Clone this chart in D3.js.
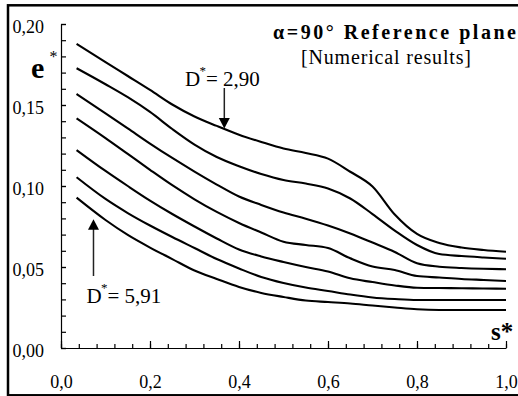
<!DOCTYPE html>
<html>
<head>
<meta charset="utf-8">
<script src="https://cdn.jsdelivr.net/npm/d3@7"></script>
<style>
  html, body { margin: 0; padding: 0; background: #fff; }
  svg { display: block; font-family: "Liberation Serif", "Times New Roman", serif; }
</style>
</head>
<body>
<svg id="chart" width="518" height="396"></svg>
<script>
// Dimensionless position s* along the sampling line
const sValues = [0.035, 0.10, 0.15, 0.20, 0.25, 0.30, 0.35, 0.40, 0.45, 0.50,
                 0.55, 0.60, 0.65, 0.70, 0.75, 0.80, 0.85, 0.90, 0.95, 1.00];

// e* for each diameter, from D* = 2,90 (top) to D* = 5,91 (bottom)
const eD1 = [0.1877, 0.1765, 0.1679, 0.1593, 0.1503, 0.1429, 0.1371, 0.1317, 0.1272, 0.1231,
             0.1204, 0.1169, 0.1088, 0.0997, 0.0824, 0.0704, 0.0648, 0.0620, 0.0605, 0.0594];
const eD2 = [0.1727, 0.1628, 0.1548, 0.1457, 0.1352, 0.1256, 0.1179, 0.1122, 0.1074, 0.1037,
             0.1015, 0.0985, 0.0923, 0.0827, 0.0725, 0.0636, 0.0580, 0.0568, 0.0559, 0.0551];
const eD3 = [0.1568, 0.1449, 0.1356, 0.1262, 0.1173, 0.1089, 0.1009, 0.0935, 0.0883, 0.0836,
             0.0798, 0.0756, 0.0707, 0.0651, 0.0593, 0.0523, 0.0502, 0.0494, 0.0489, 0.0486];
const eD4 = [0.1418, 0.1296, 0.1198, 0.1100, 0.1005, 0.0918, 0.0840, 0.0772, 0.0713, 0.0656,
             0.0636, 0.0617, 0.0554, 0.0503, 0.0481, 0.0444, 0.0435, 0.0426, 0.0420, 0.0414];
const eD5 = [0.1222, 0.1093, 0.1000, 0.0910, 0.0827, 0.0750, 0.0676, 0.0608, 0.0565, 0.0531,
             0.0500, 0.0472, 0.0430, 0.0407, 0.0386, 0.0372, 0.0370, 0.0369, 0.0367, 0.0366];
const eD6 = [0.1054, 0.0920, 0.0833, 0.0756, 0.0685, 0.0617, 0.0549, 0.0491, 0.0438, 0.0401,
             0.0373, 0.0352, 0.0330, 0.0312, 0.0302, 0.0296, 0.0296, 0.0296, 0.0296, 0.0296];
const eD7 = [0.0928, 0.0790, 0.0698, 0.0620, 0.0549, 0.0478, 0.0426, 0.0377, 0.0340, 0.0315,
             0.0293, 0.0284, 0.0275, 0.0262, 0.0250, 0.0239, 0.0235, 0.0235, 0.0235, 0.0235];
const seriesList = [eD1, eD2, eD3, eD4, eD5, eD6, eD7];

// Axis ticks
const xTicks = [0, 0.2, 0.4, 0.6, 0.8, 1.0];
const xMinorTicks = d3.range(0, 1.0001, 0.04);
const yTicks = [0, 0.05, 0.10, 0.15, 0.20];
const yMinorTicks = d3.range(0, 0.2001, 0.01);

// Annotations
const titleText = "\u03b1=90\u00b0 Reference plane";
const subtitleText = "[Numerical results]";
const topLabel = { s: 0.367, e: 0.1355, value: "2,90" };
const bottomLabel = { s: 0.073, e: 0.0795, value: "5,91" };

const FONT = "'Liberation Serif', 'Times New Roman', serif";
const svg = d3.select("#chart").attr("font-family", FONT);
const x = d3.scaleLinear().domain([0, 1]).range([61, 506]);
const y = d3.scaleLinear().domain([0, 0.2]).range([348, 24]);
const comma = f => v => d3.format(f)(v).replace(".", ",");

// Outer frame
svg.append("rect")
  .attr("x", 8).attr("y", 5.3).attr("width", 530).attr("height", 390)
  .attr("fill", "none").attr("stroke", "#000").attr("stroke-width", 2.5);

// Minor ticks (inward)
svg.append("g").attr("transform", "translate(0,348)")
  .call(d3.axisBottom(x).tickValues(xMinorTicks).tickSize(-4).tickFormat(""))
  .call(g => g.select(".domain").remove());
svg.append("g").attr("transform", "translate(61,0)")
  .call(d3.axisLeft(y).tickValues(yMinorTicks).tickSize(-5).tickFormat(""))
  .call(g => g.select(".domain").remove());

// Major axes
const xAxis = svg.append("g").attr("transform", "translate(0,348)")
  .call(d3.axisBottom(x).tickValues(xTicks).tickSizeInner(-7).tickSizeOuter(0)
        .tickPadding(0).tickFormat(comma(".1f")));
xAxis.selectAll("text").attr("y", 39.5).attr("dy", null);

const yAxis = svg.append("g").attr("transform", "translate(61,0)")
  .call(d3.axisLeft(y).tickValues(yTicks).tickSizeInner(-5).tickSizeOuter(0)
        .tickPadding(17).tickFormat(comma(".2f")));
yAxis.selectAll("text").attr("dy", 8);

svg.selectAll("g").attr("font-family", FONT);
svg.selectAll(".tick line, .domain").attr("stroke", "#000").attr("stroke-width", 1.2);
svg.selectAll(".tick text").attr("font-size", 18).attr("fill", "#000");

// Curves
const line = d3.line()
  .x((d, i) => x(sValues[i]))
  .y(d => y(d))
  .curve(d3.curveMonotoneX);
svg.append("g").selectAll("path").data(seriesList).join("path")
  .attr("d", line)
  .attr("fill", "none").attr("stroke", "#000").attr("stroke-width", 2.1)
  .attr("stroke-linejoin", "round");

// Axis titles
const eLab = svg.append("text").attr("x", 31).attr("y", 77.5).attr("fill", "#000");
eLab.append("tspan").attr("font-weight", "bold").attr("font-size", 30).text("e");
eLab.append("tspan").attr("x", 49.5).attr("y", 61.5).attr("font-size", 16).text("*");

svg.append("text").attr("x", 491).attr("y", 339.5)
  .attr("font-weight", "bold").attr("font-size", 25).attr("fill", "#000").text("s*");

// Title block
svg.append("text").attr("x", 273).attr("y", 39)
  .attr("font-weight", "bold").attr("font-size", 20)
  .attr("textLength", 243).attr("lengthAdjust", "spacing")
  .text(titleText);
svg.append("text").attr("x", 301).attr("y", 64)
  .attr("font-size", 20)
  .attr("textLength", 170).attr("lengthAdjust", "spacing")
  .text(subtitleText);

// Diameter annotations with arrows
function arrow(xp, yTail, yTip) {
  const dir = yTip > yTail ? 1 : -1;
  svg.append("line").attr("x1", xp).attr("x2", xp)
    .attr("y1", yTail).attr("y2", yTip - dir * 9)
    .attr("stroke", "#222").attr("stroke-width", 1.5);
  svg.append("path")
    .attr("d", `M${xp - 5.5},${yTip - dir * 10.5} L${xp + 5.5},${yTip - dir * 10.5} L${xp},${yTip} Z`)
    .attr("fill", "#000");
}
function dLabel(x0, base, value) {
  const t = svg.append("text").attr("x", x0).attr("y", base).attr("font-size", 21).attr("fill", "#000");
  t.append("tspan").text("D");
  t.append("tspan").attr("x", x0 + 14.5).attr("y", base - 11).attr("font-size", 13).text("*");
  t.append("tspan").attr("x", x0 + 21).attr("y", base).text("= " + value);
}

const ax1 = x(topLabel.s);
arrow(ax1, 88, y(topLabel.e));
dLabel(185, 86, topLabel.value);

const ax2 = x(bottomLabel.s);
arrow(ax2, 276, y(bottomLabel.e));
dLabel(86.5, 302.5, bottomLabel.value);
</script>
</body>
</html>
